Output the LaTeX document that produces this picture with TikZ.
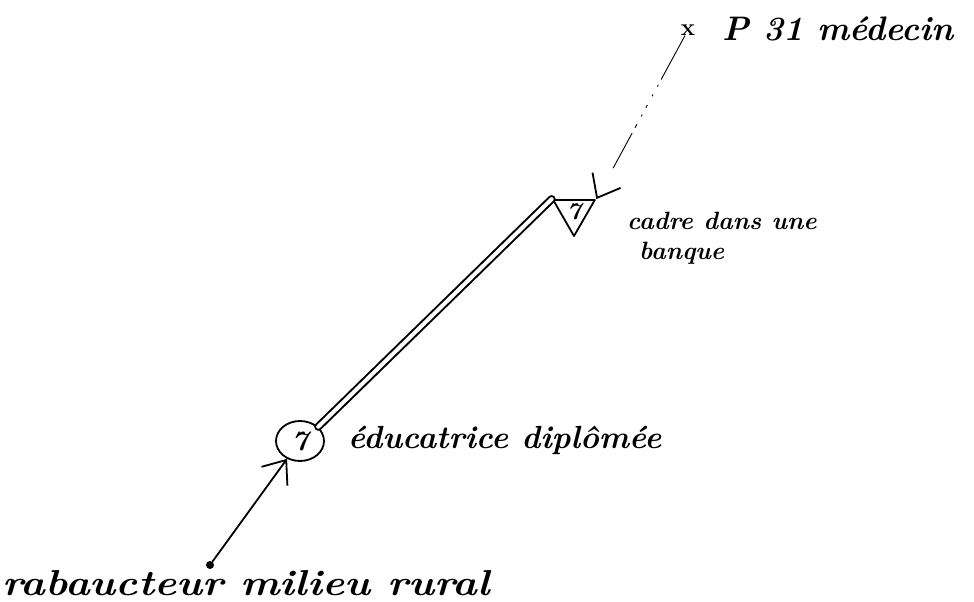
\documentclass[tikz,border=0pt]{standalone}
\usepackage{fontspec}
\usepackage{tikz}
\usetikzlibrary{arrows.meta,positioning,shapes.geometric}
\tikzset{
  ink/.style={line width=1.8pt, line cap=round, line join=round},
  barb/.style={-{Straight Barb[length=20pt, width=32pt, line width=1.8pt]}},
  posE/.style={ellipse, draw, ink, minimum width=48pt, minimum height=40pt, inner sep=0pt, font=\bfseries\itshape\fontsize{28}{28}\selectfont},
  posT/.style={regular polygon, regular polygon sides=3, shape border rotate=180, draw, ink, minimum size=48pt, inner sep=0pt, font=\bfseries\itshape\fontsize{24}{24}\selectfont},
  dot/.style={circle, fill, minimum size=8pt, inner sep=0pt},
  lbl/.style={inner sep=0pt, font=\bfseries\itshape\fontsize{#1}{1.2\dimexpr#1pt}\selectfont},
}

\begin{document}
\begin{tikzpicture}[x=1pt, y=-1pt]
\useasboundingbox (0,0) rectangle (974,602);
\node[dot] (rural) at (210,565) {};
\node[posE] (edu) at (300,441) {7};
\node[posT] (cadre) at (574,212) {7};
\node[inner sep=0pt, font=\bfseries\fontsize{24}{24}\selectfont] (med) at (688,30) {x};
\draw[ink, barb] (rural) -- (edu);
\draw[ink, line width=2pt, double, double distance=4pt] (edu.38) -- (cadre.corner 3);
\draw[line width=0.9pt, barb, dash pattern={on 50pt off 6pt on 2pt off 9pt on 2pt off 10pt on 3pt off 8pt on 2pt off 9pt on 4pt off 6pt on 40pt}] (med) -- (cadre.corner 2);
\node[lbl=34, anchor=base west] (t31) at (722,41) {P 31 médecin};
\node[lbl=25, anchor=west, align=left] (tcadre) at (627,238) {cadre dans une\\\hspace{12pt}banque};
\node[lbl=32, anchor=west] (tedu) at (348,440) {éducatrice diplômée};
\node[lbl=36, anchor=base west, xscale=1.16, transform shape] (trural) at (2,595) {rabaucteur milieu rural};
\end{tikzpicture}
\end{document}
